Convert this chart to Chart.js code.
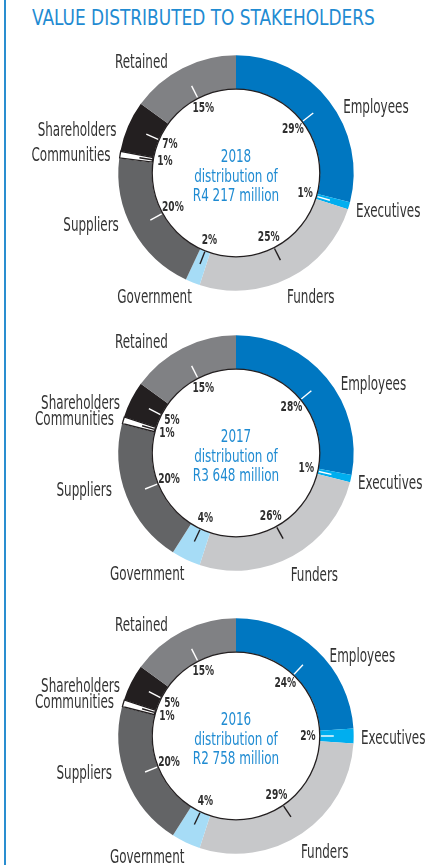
<!DOCTYPE html>
<html>
<head>
<meta charset="utf-8">
<script src="https://cdn.jsdelivr.net/npm/chart.js@4.4.1/dist/chart.umd.min.js"></script>
<style>
  html, body { margin: 0; padding: 0; background: #fff; }
  body { width: 430px; height: 865px; position: relative; overflow: hidden; }
  .rule { position: absolute; left: 4px; top: 0; width: 1.5px; height: 865px; background: #2a8ed0; }
  .title {
    position: absolute; left: 32px; top: 5px; white-space: nowrap;
    font-family: "DejaVu Sans Condensed", sans-serif;
    font-size: 22px; color: #1f8bd2; transform-origin: 0 0;
  }
  .ring { position: absolute; left: 0; width: 430px; height: 280px; }
</style>
</head>
<body>
<div class="rule"></div>
<div class="title" id="title">VALUE DISTRIBUTED TO STAKEHOLDERS</div>
<div class="ring" style="top:33px"><canvas id="ring2018"></canvas></div>
<div class="ring" style="top:313px"><canvas id="ring2017"></canvas></div>
<div class="ring" style="top:596px"><canvas id="ring2016"></canvas></div>

<script>
// Stakeholder groups, clockwise from 12 o'clock
const categories = ['Employees', 'Executives', 'Funders', 'Government', 'Suppliers', 'Communities', 'Shareholders', 'Retained'];
const years = ['2018', '2017', '2016'];
const totals = ['R4 217 million', 'R3 648 million', 'R2 758 million'];
const share2018 = [29, 1, 25, 2, 20, 1, 7, 15];
const share2017 = [28, 1, 26, 4, 20, 1, 5, 15];
const share2016 = [24, 2, 29, 4, 20, 1, 5, 15];

const sliceColors = ['#0077c1', '#00aeef', '#c7c8ca', '#a6dcf6', '#636466', '#ffffff', '#231f20', '#808184'];
const tickColors = ['#fff', '#fff', '#231f20', '#231f20', '#fff', '#231f20', '#fff', '#fff'];
// nudge for each outer label from its radial anchor [dx, dy]
const labelNudge = {
  Employees: [6, 14], Executives: [-3, 3], Funders: [-7, 11], Government: [3, 6],
  Suppliers: [-5, -9], Communities: [1, 3], Shareholders: [-2, 9], Retained: [-10, 4]
};

const narrow = '"DejaVu Sans Condensed", sans-serif';

// fit the heading to its measured width
(function () {
  const t = document.getElementById('title');
  t.style.transform = 'scaleX(' + (343 / t.offsetWidth) + ')';
})();

// squeeze text horizontally around its anchor point
function condensedText(ctx, text, x, y, sx) {
  ctx.save();
  ctx.translate(x, y);
  ctx.scale(sx, 1);
  ctx.fillText(text, 0, 0);
  ctx.restore();
}

const ringLabels = {
  id: 'ringLabels',
  afterDatasetsDraw(chart, args, opts) {
    const ctx = chart.ctx;
    const arcs = chart.getDatasetMeta(0).data;
    const values = chart.data.datasets[0].data;
    let cx = 0, cy = 0, inner = 0, outer = 0;

    arcs.forEach((arc, i) => {
      const p = arc.getProps(['x', 'y', 'startAngle', 'endAngle', 'innerRadius', 'outerRadius'], true);
      cx = p.x; cy = p.y; inner = p.innerRadius; outer = p.outerRadius;
      const mid = (p.startAngle + p.endAngle) / 2;
      const c = Math.cos(mid), s = Math.sin(mid);

      // tick across the ring
      ctx.save();
      ctx.strokeStyle = tickColors[i];
      ctx.lineWidth = 1.4;
      ctx.beginPath();
      ctx.moveTo(cx + c * (inner + 1), cy + s * (inner + 1));
      ctx.lineTo(cx + c * (inner + 14), cy + s * (inner + 14));
      ctx.stroke();

      // percentage inside the hole
      ctx.fillStyle = '#2e2e2e';
      ctx.font = 'bold 14px ' + narrow;
      ctx.textAlign = 'center';
      ctx.textBaseline = 'middle';
      condensedText(ctx, values[i] + '%', cx + c * 72, cy + s * 72, 0.72);

      // category name outside the ring
      const name = chart.data.labels[i];
      const n = labelNudge[name] || [0, 0];
      ctx.font = '19px ' + narrow;
      ctx.fillStyle = '#333';
      ctx.textAlign = c > 0 ? 'left' : 'right';
      condensedText(ctx, name, cx + c * (outer + 10) + n[0], cy + s * (outer + 10) + n[1], 0.7);
      ctx.restore();
    });

    // thin dark edge round the hole
    ctx.save();
    ctx.strokeStyle = '#231f20';
    ctx.lineWidth = 1.3;
    ctx.beginPath();
    ctx.arc(cx, cy, inner, 0, Math.PI * 2);
    ctx.stroke();

    // centre caption
    ctx.fillStyle = '#1f8bd2';
    ctx.font = '18px ' + narrow;
    ctx.textAlign = 'center';
    ctx.textBaseline = 'middle';
    condensedText(ctx, opts.year, cx, cy - 16, 0.74);
    condensedText(ctx, 'distribution of', cx, cy + 4, 0.74);
    condensedText(ctx, opts.total, cx, cy + 23, 0.74);
    ctx.restore();
  }
};

function drawRing(id, values, year, total) {
  new Chart(document.getElementById(id), {
    type: 'doughnut',
    data: {
      labels: categories,
      datasets: [{
        data: values,
        backgroundColor: sliceColors,
        borderColor: categories.map(c => c === 'Communities' ? '#231f20' : '#fff'),
        borderWidth: categories.map(c => c === 'Communities' ? 1 : 0),
        borderAlign: 'inner'
      }]
    },
    options: {
      responsive: true,
      maintainAspectRatio: false,
      animation: false,
      cutout: '71%',
      layout: { padding: { top: 22, bottom: 22, left: 118, right: 76 } },
      plugins: {
        legend: { display: false },
        tooltip: { enabled: false },
        ringLabels: { year: year, total: total }
      }
    },
    plugins: [ringLabels]
  });
}

drawRing('ring2018', share2018, years[0], totals[0]);
drawRing('ring2017', share2017, years[1], totals[1]);
drawRing('ring2016', share2016, years[2], totals[2]);
</script>
</body>
</html>
